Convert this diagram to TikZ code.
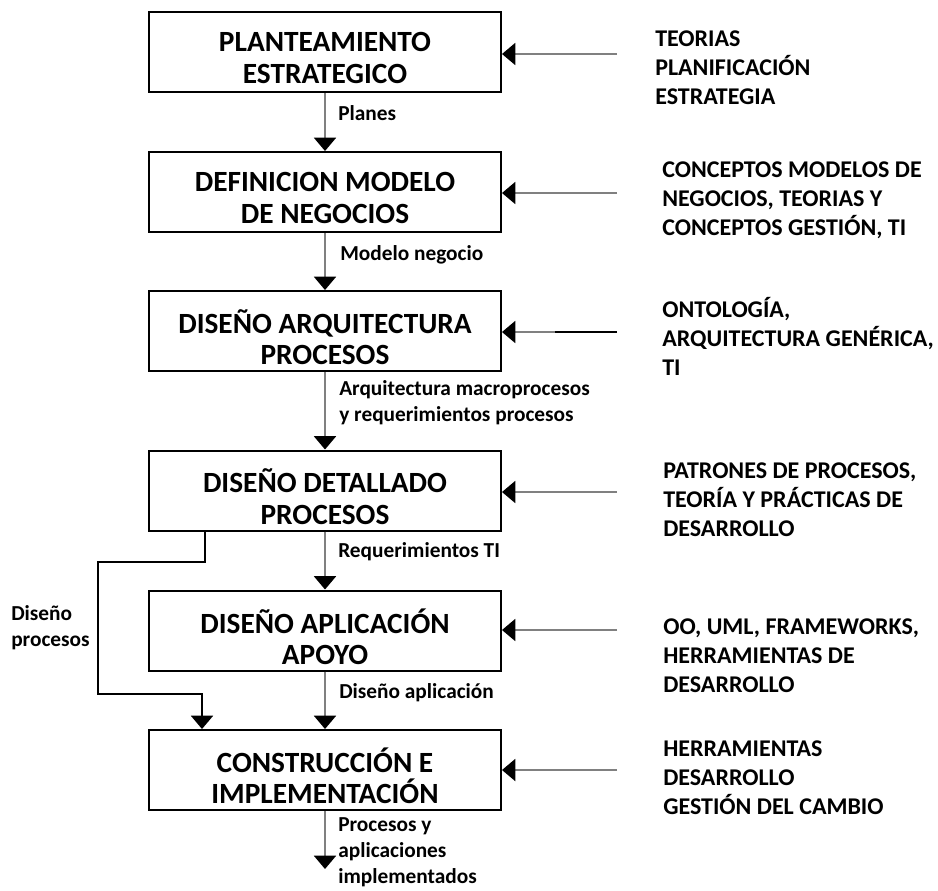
\documentclass[tikz,border=0pt]{standalone}
\usepackage{fontspec}
\setmainfont{Carlito}
\usetikzlibrary{arrows.meta}
\begin{document}
\begin{tikzpicture}[x=0.75pt,y=-0.75pt,
  procbox/.style={draw=black,line width=1.5pt,minimum width=264pt,minimum height=60pt,inner sep=0pt},
  proctxt/.style={align=center,inner sep=0pt,font=\bfseries\fontsize{22}{23.5}\selectfont},
  inputtxt/.style={anchor=west,align=left,inner sep=0pt,font=\bfseries\fontsize{18}{21.8}\selectfont},
  flowlbl/.style={anchor=west,align=left,inner sep=0pt,font=\bfseries\fontsize{16}{19.5}\selectfont},
  tip/.style={-{Triangle[width=16.5pt,length=10pt,black]}},
  garrow/.style={tip,draw=black!50,line width=1.5pt},
  barrow/.style={tip,draw=black,line width=1.5pt},
  bline/.style={draw=black,line width=1.5pt}]
\useasboundingbox (0,0) rectangle (938,890);

% process boxes
\node[procbox] (b1) at (325,52)    {};
\node[procbox] (b2) at (325,192)   {};
\node[procbox] (b3) at (325,331)   {};
\node[procbox] (b4) at (325,490.5) {};
\node[procbox] (b5) at (325,630.5) {};
\node[procbox] (b6) at (325,770)   {};
\node[proctxt] (t1) at (325,58)    {PLANTEAMIENTO\\ESTRATEGICO};
\node[proctxt] (t2) at (325,198)   {DEFINICION MODELO\\DE NEGOCIOS};
\node[proctxt] (t3) at (325,337)   {DISEÑO ARQUITECTURA\\PROCESOS};
\node[proctxt] (t4) at (325,496.5) {DISEÑO DETALLADO\\PROCESOS};
\node[proctxt] (t5) at (325,636.5) {DISEÑO APLICACIÓN\\APOYO};
\node[proctxt] (t6) at (325,776)   {CONSTRUCCIÓN E\\IMPLEMENTACIÓN};

% right-hand inputs
\node[inputtxt] (r1) at (655,68)  {TEORIAS\\PLANIFICACIÓN\\ESTRATEGIA};
\node[inputtxt] (r2) at (662,200) {CONCEPTOS MODELOS DE\\NEGOCIOS, TEORIAS Y\\CONCEPTOS GESTIÓN, TI};
\node[inputtxt] (r3) at (662,336) {ONTOLOGÍA,\\ARQUITECTURA GENÉRICA,\\TI};
\node[inputtxt] (r4) at (663,500) {PATRONES DE PROCESOS,\\TEORÍA Y PRÁCTICAS DE\\DESARROLLO};
\node[inputtxt] (r5) at (663,656) {OO, UML, FRAMEWORKS,\\HERRAMIENTAS DE\\DESARROLLO};
\node[inputtxt] (r6) at (663,778) {HERRAMIENTAS\\DESARROLLO\\GESTIÓN DEL CAMBIO};

\coordinate (s1) at (617,54);
\coordinate (s2) at (617,193);
\coordinate (s3) at (617,332);
\coordinate (m3) at (555,332);
\coordinate (s4) at (617,492);
\coordinate (s5) at (617,630);
\coordinate (s6) at (617,770);

\draw[garrow] (s1) -- (s1 -| b1.east);
\draw[garrow] (s2) -- (s2 -| b2.east);
\draw[garrow] (m3) -- (m3 -| b3.east);
\draw[bline] (s3) -- (m3);
\draw[garrow] (s4) -- (s4 -| b4.east);
\draw[garrow] (s5) -- (s5 -| b5.east);
\draw[garrow] (s6) -- (s6 -| b6.east);

% main flow
\draw[garrow] (b1) -- (b2);
\draw[garrow] (b2) -- (b3);
\draw[garrow] (b3) -- (b4);
\draw[garrow] (b4) -- (b5);
\draw[garrow] (b5) -- (b6);
\coordinate (out) at (325,869);
\draw[garrow] (b6) -- (out);

% flow labels
\node[flowlbl] (l1) at (338,113) {Planes};
\node[flowlbl] (l2) at (340,255) {Modelo negocio};
\node[flowlbl] (l3) at (339,403) {Arquitectura macroprocesos\\y requerimientos procesos};
\node[flowlbl] (l4) at (338,552) {Requerimientos TI};
\node[flowlbl] (l5) at (339,693) {Diseño aplicación};
\node[flowlbl] (l6) at (338,852) {Procesos y\\aplicaciones\\implementados};

% bypass connector
\coordinate (k1) at (205,562);
\coordinate (k2) at (98,694);
\coordinate (k3) at (202,694);
\draw[barrow] (k1 |- b4.south) -- (k1) -| (k2) -- (k3) -- (k3 |- b6.north);
\node[flowlbl] (l7) at (11,628) {Diseño\\procesos};
\end{tikzpicture}
\end{document}
